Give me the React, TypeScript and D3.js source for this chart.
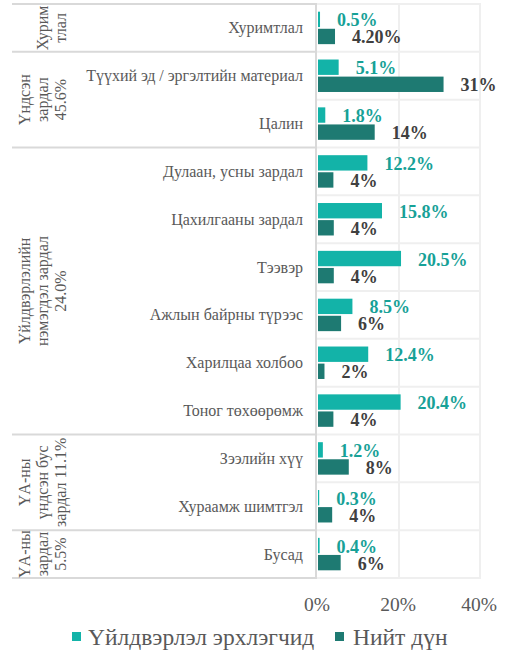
import React from "react";
import * as d3 from "d3";

const categories = [
  "Хуримтлал",
  "Түүхий эд / эргэлтийн материал",
  "Цалин",
  "Дулаан, усны зардал",
  "Цахилгааны зардал",
  "Тээвэр",
  "Ажлын байрны түрээс",
  "Харилцаа холбоо",
  "Тоног төхөөрөмж",
  "Зээлийн хүү",
  "Хураамж шимтгэл",
  "Бусад",
];
const producers = [0.5, 5.1, 1.8, 12.2, 15.8, 20.5, 8.5, 12.4, 20.4, 1.2, 0.3, 0.4];
const totals = [4.2, 31, 14, 3.8, 3.9, 3.9, 5.7, 1.6, 3.8, 7.6, 3.5, 5.6];
const totalLabels = ["4.20%", "31%", "14%", "4%", "4%", "4%", "6%", "2%", "4%", "8%", "4%", "6%"];
const groupLabels = [
  ["Хурим", "тлал"],
  ["Үндсэн", "зардал", "45.6%"],
  ["Үйлдвэрлэлийн", "нэмэгдэл зардал", "24.0%"],
  ["ҮА-ны", "үндсэн бус", "зардал 11.1%"],
  ["ҮА-ны", "зардал", "5.5%"],
];
const groupSizes = [1, 2, 6, 2, 1];
const seriesNames = ["Үйлдвэрлэл эрхлэгчид", "Нийт дүн"];
const xTicks = [0, 20, 40];

const W = 506;
const H = 653;
const FONT = '"Liberation Serif", "DejaVu Serif", serif';
const C1 = "#13b3a8";
const C2 = "#1e7a72";
const L1 = "#17a197";
const L2 = "#404040";
const GRID = "#efefef";
const AXIS = "#d9d9d9";
const TXT = "#595959";

const T: React.CSSProperties = { fontFamily: FONT };

export default function App() {
  const x = d3.scaleLinear().domain([0, 40]).range([318, 480]);
  const y = d3.scaleBand<string>().domain(categories).range([4, 578]).padding(0);
  const sub = d3
    .scaleBand<string>()
    .domain(seriesNames)
    .range([0, y.bandwidth()])
    .paddingInner(0.1)
    .paddingOuter(0.45);

  const boundaries = categories.map((c) => y(c)!).concat([y.range()[1]]);

  const groupStarts: number[] = [];
  let acc = 0;
  groupSizes.forEach((s) => {
    groupStarts.push(acc);
    acc += s;
  });
  const groupBounds = groupStarts.map((s) => y(categories[s])!).concat([y.range()[1]]);

  const series = [
    { name: seriesNames[0], values: producers, color: C1, lcolor: L1, labels: producers.map((v) => d3.format(".1%")(v / 100)) },
    { name: seriesNames[1], values: totals, color: C2, lcolor: L2, labels: totalLabels },
  ];

  return (
    <svg width={W} height={H} style={{ position: "absolute", left: 0, top: 0, background: "#fff", fontFamily: FONT }}>
      {boundaries.map((b, i) => (
        <line key={"h" + i} x1={x(0) - 1} x2={x(40) + 1} y1={b} y2={b} stroke={GRID} strokeWidth={2} />
      ))}
      {xTicks.slice(1).map((t) => (
        <line key={"v" + t} x1={x(t)} x2={x(t)} y1={y.range()[0]} y2={y.range()[1]} stroke={GRID} strokeWidth={2} />
      ))}
      {groupBounds.map((b, i) => (
        <line key={"g" + i} x1={12} x2={317} y1={b} y2={b} stroke={AXIS} strokeWidth={2} />
      ))}
      <line x1={316} x2={316} y1={y.range()[0] - 1} y2={y.range()[1] + 1} stroke={AXIS} strokeWidth={2} />

      {series.map((s) =>
        categories.map((c, i) => {
          const by = y(c)! + sub(s.name)!;
          return (
            <g key={s.name + c}>
              <rect x={x(0)} y={by} width={x(s.values[i]) - x(0)} height={sub.bandwidth()} fill={s.color} />
              <text
                x={x(s.values[i]) + 17}
                y={by + sub.bandwidth() / 2 + 7}
                fontSize={18}
                fontWeight="bold"
                fill={s.lcolor}
                style={T}
              >
                {s.labels[i]}
              </text>
            </g>
          );
        })
      )}

      {categories.map((c) => (
        <text key={"c" + c} x={303} y={y(c)! + y.bandwidth() / 2 + 5.5} textAnchor="end" fontSize={16} fill={TXT} style={T}>
          {c}
        </text>
      ))}

      {groupLabels.map((lines, gi) => {
        const cy = (groupBounds[gi] + groupBounds[gi + 1]) / 2;
        return lines.map((ln, li) => {
          const bx = 66 - (lines.length - 1 - li) * 18;
          return (
            <text
              key={"gl" + gi + "-" + li}
              transform={`translate(${bx},${cy}) rotate(-90)`}
              textAnchor="middle"
              fontSize={16}
              fill={TXT}
              style={T}
            >
              {ln}
            </text>
          );
        });
      })}

      {xTicks.map((t) => (
        <text key={"t" + t} x={x(t) - 1} y={611} textAnchor="middle" fontSize={19.5} fill={TXT} style={T}>
          {d3.format(".0%")(t / 100)}
        </text>
      ))}

      <rect x={72} y={632} width={9} height={9} fill={C1} />
      <text x={88} y={644.5} fontSize={23.5} fill={TXT} style={T}>
        {seriesNames[0]}
      </text>
      <rect x={335} y={632} width={9} height={9} fill={C2} />
      <text x={353} y={644.5} fontSize={23.5} fill={TXT} style={T}>
        {seriesNames[1]}
      </text>
    </svg>
  );
}
